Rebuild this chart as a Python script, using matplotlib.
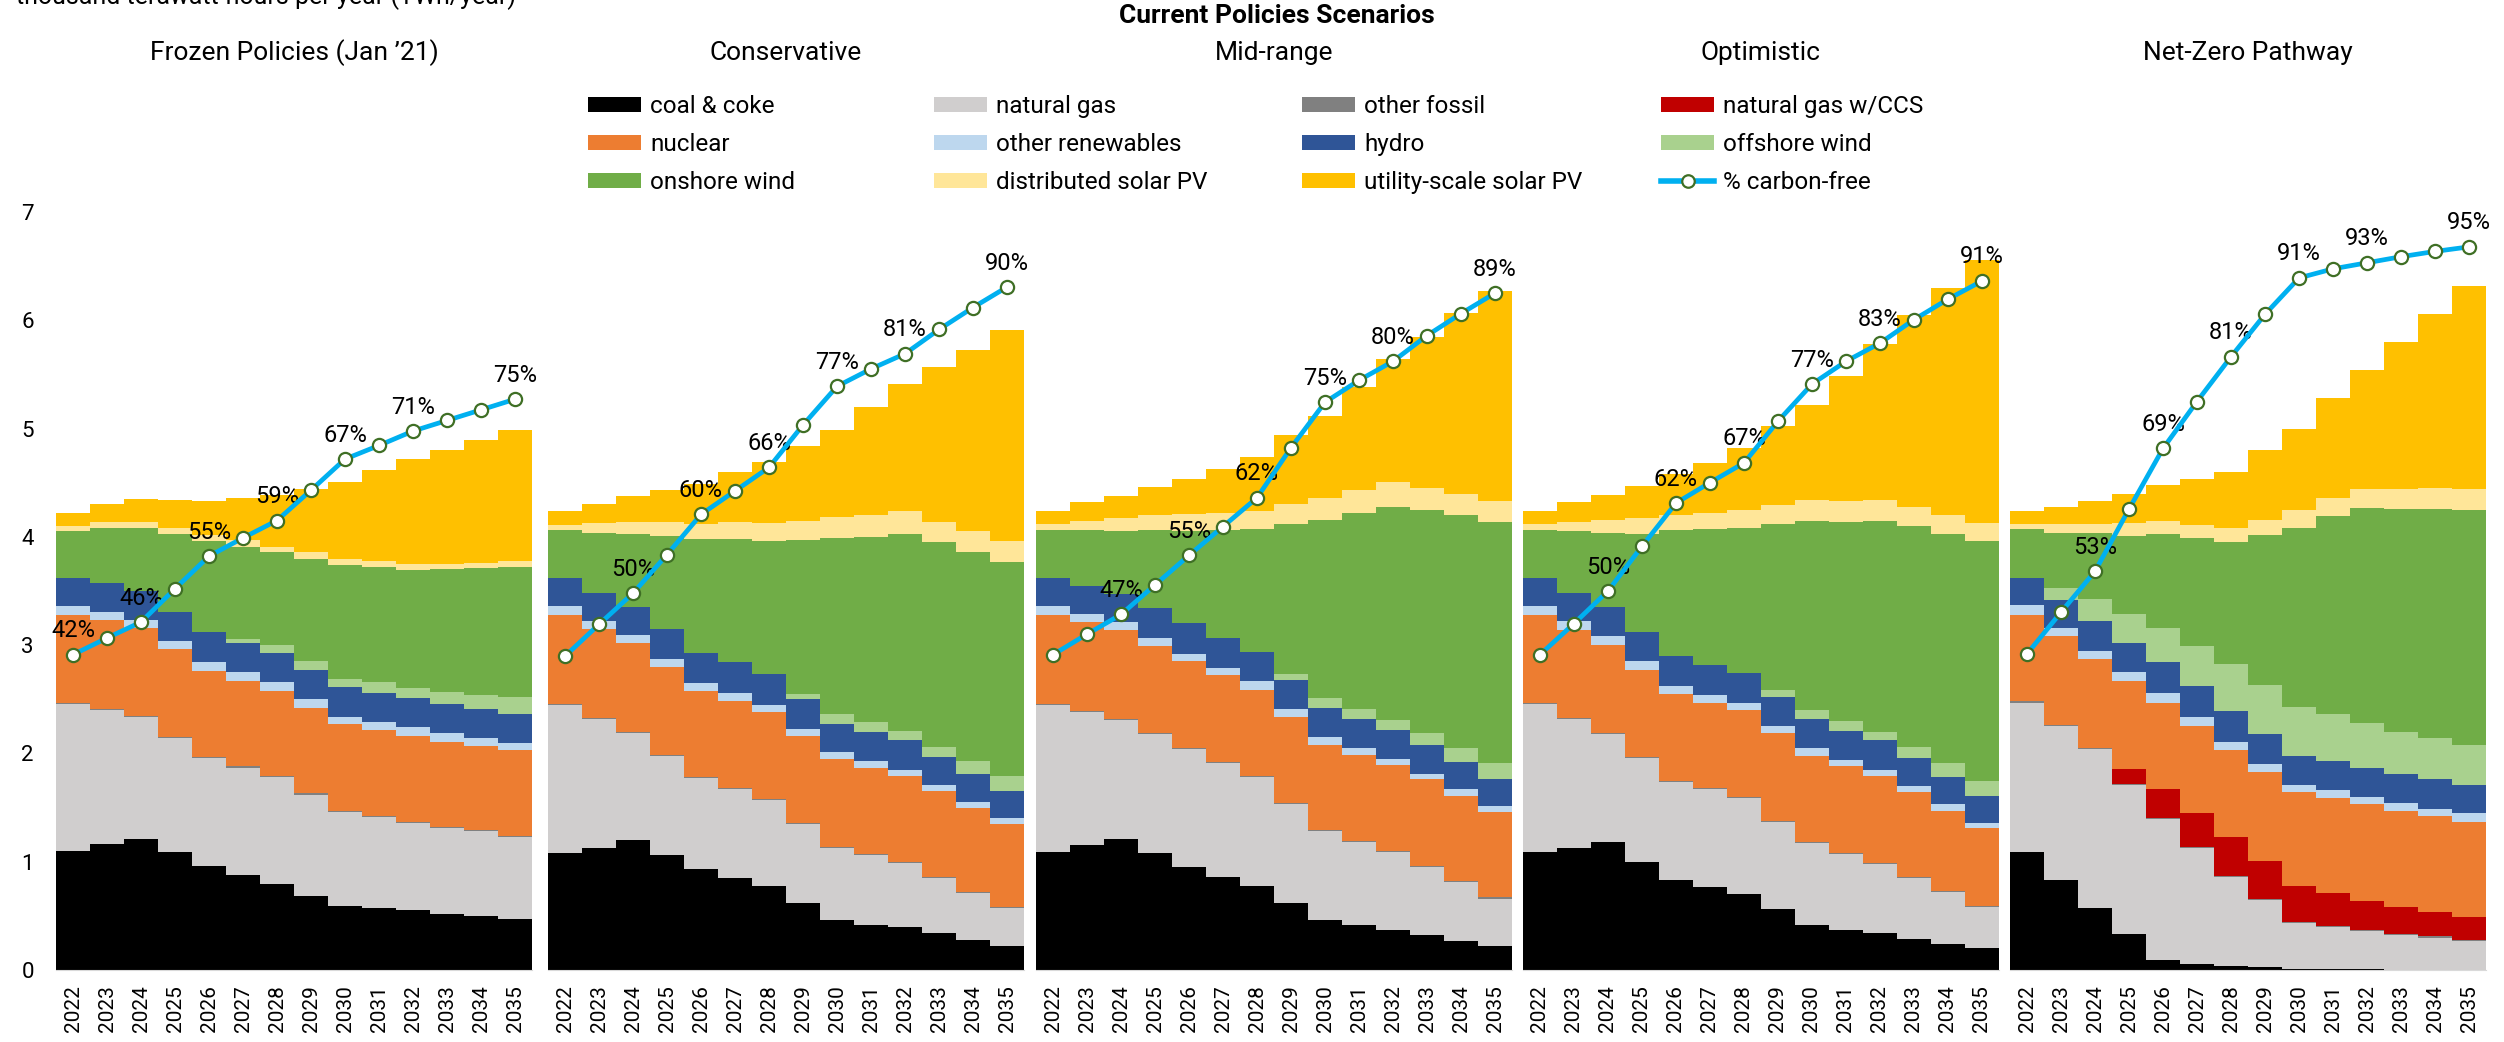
import numpy as np
import matplotlib
matplotlib.use("Agg")
import matplotlib.pyplot as plt
from matplotlib.patches import Patch
from matplotlib.lines import Line2D

plt.rcParams['font.family'] = ['Roboto', 'DejaVu Sans']

years = list(range(2022, 2036))
scenarios = ["Frozen Policies (Jan \u201921)", "Conservative", "Mid-range", "Optimistic", "Net-Zero Pathway"]

series_names = ["coal & coke", "natural gas", "other fossil", "natural gas w/CCS", "nuclear",
                "other renewables", "hydro", "offshore wind", "onshore wind",
                "distributed solar PV", "utility-scale solar PV"]
colors = ["#000000", "#D0CECE", "#808080", "#C00000", "#ED7D31", "#BDD7EE", "#2F5597",
          "#A9D18E", "#70AD47", "#FFE699", "#FFC000"]

# thousand TWh / year, one row per scenario
coal = [
    [1.10, 1.16, 1.21, 1.09, 0.96, 0.88, 0.79, 0.68, 0.59, 0.57, 0.55, 0.52, 0.50, 0.47],
    [1.08, 1.13, 1.20, 1.06, 0.93, 0.85, 0.78, 0.62, 0.46, 0.42, 0.40, 0.34, 0.28, 0.22],
    [1.09, 1.15, 1.21, 1.08, 0.95, 0.86, 0.78, 0.62, 0.46, 0.42, 0.37, 0.32, 0.27, 0.22],
    [1.09, 1.13, 1.18, 1.00, 0.83, 0.77, 0.70, 0.56, 0.42, 0.37, 0.34, 0.29, 0.24, 0.20],
    [1.09, 0.83, 0.57, 0.33, 0.09, 0.06, 0.04, 0.03, 0.01, 0.01, 0.01, 0.00, 0.00, 0.00],
]
natural_gas = [
    [1.36, 1.24, 1.13, 1.05, 1.00, 0.99, 0.99, 0.94, 0.87, 0.84, 0.81, 0.79, 0.78, 0.76],
    [1.37, 1.19, 0.99, 0.92, 0.84, 0.82, 0.79, 0.73, 0.67, 0.64, 0.59, 0.51, 0.43, 0.35],
    [1.36, 1.23, 1.10, 1.10, 1.09, 1.05, 1.00, 0.91, 0.82, 0.76, 0.72, 0.63, 0.54, 0.44],
    [1.37, 1.19, 1.00, 0.96, 0.91, 0.90, 0.89, 0.81, 0.75, 0.70, 0.64, 0.56, 0.48, 0.38],
    [1.38, 1.42, 1.47, 1.38, 1.30, 1.07, 0.82, 0.62, 0.42, 0.39, 0.35, 0.32, 0.30, 0.27],
]
other_fossil = [
    [0.01] * 14,
    [0.01] * 14,
    [0.01] * 14,
    [0.01] * 14,
    [0.01] * 14,
]
gas_ccs = [
    [0.0] * 14,
    [0.0] * 14,
    [0.0] * 14,
    [0.0] * 14,
    [0.00, 0.00, 0.00, 0.14, 0.27, 0.31, 0.36, 0.35, 0.34, 0.30, 0.27, 0.25, 0.23, 0.21],
]
nuclear = [
    [0.81, 0.82, 0.81, 0.81, 0.79, 0.79, 0.79, 0.79, 0.80, 0.80, 0.79, 0.79, 0.78, 0.79],
    [0.82, 0.82, 0.82, 0.81, 0.80, 0.80, 0.80, 0.80, 0.81, 0.80, 0.79, 0.79, 0.78, 0.77],
    [0.82, 0.82, 0.82, 0.80, 0.80, 0.80, 0.80, 0.80, 0.79, 0.80, 0.79, 0.80, 0.79, 0.79],
    [0.81, 0.81, 0.81, 0.80, 0.80, 0.79, 0.80, 0.81, 0.80, 0.80, 0.80, 0.78, 0.74, 0.72],
    [0.80, 0.82, 0.82, 0.81, 0.80, 0.80, 0.80, 0.82, 0.86, 0.88, 0.89, 0.89, 0.88, 0.88],
]
other_renewables = [
    [0.08, 0.08, 0.07, 0.08, 0.08, 0.08, 0.08, 0.08, 0.07, 0.07, 0.08, 0.08, 0.07, 0.07],
    [0.08, 0.07, 0.07, 0.07, 0.07, 0.08, 0.07, 0.07, 0.06, 0.06, 0.06, 0.06, 0.05, 0.05],
    [0.08, 0.08, 0.07, 0.08, 0.07, 0.07, 0.08, 0.07, 0.07, 0.06, 0.06, 0.05, 0.06, 0.05],
    [0.08, 0.08, 0.08, 0.08, 0.07, 0.07, 0.07, 0.06, 0.07, 0.06, 0.06, 0.06, 0.06, 0.05],
    [0.09, 0.08, 0.08, 0.08, 0.09, 0.09, 0.08, 0.07, 0.07, 0.07, 0.07, 0.07, 0.07, 0.08],
]
hydro = [
    [0.26, 0.26, 0.27, 0.27, 0.28, 0.27, 0.27, 0.27, 0.27, 0.27, 0.27, 0.27, 0.27, 0.26],
    [0.26, 0.26, 0.26, 0.28, 0.28, 0.28, 0.28, 0.27, 0.26, 0.27, 0.27, 0.26, 0.26, 0.25],
    [0.26, 0.26, 0.26, 0.27, 0.28, 0.28, 0.27, 0.27, 0.27, 0.27, 0.27, 0.27, 0.25, 0.25],
    [0.26, 0.26, 0.27, 0.27, 0.28, 0.28, 0.27, 0.27, 0.27, 0.27, 0.27, 0.26, 0.25, 0.25],
    [0.25, 0.26, 0.27, 0.27, 0.28, 0.28, 0.28, 0.28, 0.27, 0.27, 0.27, 0.27, 0.27, 0.26],
]
offshore_wind = [
    [0.00, 0.00, 0.00, 0.00, 0.00, 0.04, 0.07, 0.08, 0.08, 0.10, 0.09, 0.11, 0.13, 0.16],
    [0.00, 0.00, 0.00, 0.00, 0.00, 0.00, 0.00, 0.05, 0.09, 0.09, 0.09, 0.09, 0.12, 0.14],
    [0.00, 0.00, 0.00, 0.00, 0.00, 0.00, 0.00, 0.05, 0.09, 0.09, 0.09, 0.11, 0.13, 0.15],
    [0.00, 0.00, 0.00, 0.00, 0.00, 0.00, 0.00, 0.07, 0.08, 0.09, 0.08, 0.10, 0.13, 0.14],
    [0.00, 0.11, 0.21, 0.27, 0.32, 0.37, 0.44, 0.45, 0.45, 0.43, 0.41, 0.39, 0.38, 0.37],
]
onshore_wind = [
    [0.43, 0.51, 0.58, 0.72, 0.84, 0.85, 0.86, 0.95, 1.05, 1.06, 1.09, 1.13, 1.17, 1.20],
    [0.44, 0.56, 0.68, 0.86, 1.05, 1.14, 1.23, 1.42, 1.63, 1.71, 1.82, 1.89, 1.93, 1.98],
    [0.44, 0.51, 0.58, 0.72, 0.85, 0.99, 1.13, 1.39, 1.65, 1.81, 1.97, 2.06, 2.15, 2.23],
    [0.44, 0.57, 0.69, 0.91, 1.16, 1.25, 1.34, 1.53, 1.75, 1.84, 1.95, 2.04, 2.12, 2.21],
    [0.45, 0.51, 0.61, 0.72, 0.87, 1.00, 1.12, 1.39, 1.65, 1.83, 1.99, 2.06, 2.12, 2.17],
]
distributed_solar = [
    [0.05, 0.06, 0.06, 0.05, 0.06, 0.06, 0.05, 0.06, 0.06, 0.06, 0.06, 0.05, 0.05, 0.06],
    [0.05, 0.09, 0.11, 0.13, 0.14, 0.16, 0.17, 0.18, 0.19, 0.20, 0.21, 0.19, 0.19, 0.19],
    [0.06, 0.09, 0.12, 0.14, 0.16, 0.16, 0.17, 0.18, 0.20, 0.21, 0.23, 0.20, 0.20, 0.19],
    [0.06, 0.09, 0.12, 0.14, 0.14, 0.15, 0.17, 0.17, 0.19, 0.19, 0.19, 0.18, 0.17, 0.17],
    [0.05, 0.08, 0.08, 0.12, 0.12, 0.12, 0.13, 0.14, 0.17, 0.17, 0.17, 0.18, 0.19, 0.19],
]
utility_solar = [
    [0.12, 0.16, 0.21, 0.26, 0.31, 0.39, 0.48, 0.58, 0.71, 0.84, 0.97, 1.05, 1.13, 1.21],
    [0.13, 0.17, 0.24, 0.29, 0.37, 0.46, 0.56, 0.69, 0.81, 1.00, 1.17, 1.43, 1.68, 1.95],
    [0.12, 0.17, 0.21, 0.26, 0.32, 0.41, 0.50, 0.64, 0.76, 0.95, 1.13, 1.40, 1.67, 1.94],
    [0.12, 0.18, 0.23, 0.30, 0.38, 0.46, 0.57, 0.73, 0.88, 1.16, 1.44, 1.77, 2.10, 2.43],
    [0.12, 0.16, 0.21, 0.27, 0.33, 0.42, 0.52, 0.64, 0.75, 0.92, 1.10, 1.36, 1.61, 1.88],
]
pct_carbon_free = [
    [41.6, 43.8, 45.9, 50.3, 54.6, 57.0, 59.3, 63.3, 67.4, 69.2, 71.1, 72.5, 73.9, 75.3],
    [41.4, 45.6, 49.7, 54.8, 60.1, 63.2, 66.3, 71.9, 77.0, 79.3, 81.3, 84.5, 87.4, 90.1],
    [41.6, 44.3, 46.9, 50.8, 54.7, 58.5, 62.3, 68.9, 74.9, 77.8, 80.3, 83.7, 86.6, 89.3],
    [41.6, 45.7, 50.0, 55.9, 61.6, 64.3, 66.9, 72.4, 77.3, 80.3, 82.7, 85.8, 88.5, 90.9],
    [41.7, 47.2, 52.6, 60.8, 68.8, 75.0, 80.9, 86.5, 91.3, 92.5, 93.3, 94.1, 94.8, 95.4],
]
# which years get a % label
label_years = [
    [2022, 2024, 2026, 2028, 2030, 2032, 2035],
    [2024, 2026, 2028, 2030, 2032, 2035],
    [2024, 2026, 2028, 2030, 2032, 2035],
    [2024, 2026, 2028, 2030, 2032, 2035],
    [2024, 2026, 2028, 2030, 2032, 2035],
]

stack = [coal, natural_gas, other_fossil, gas_ccs, nuclear, other_renewables, hydro,
         offshore_wind, onshore_wind, distributed_solar, utility_solar]

W, H = 2504, 1042
fig = plt.figure(figsize=(W / 100, H / 100), dpi=100)

lefts = [56, 548, 1036, 1523, 2010]
x = np.arange(len(years))
edges = np.arange(len(years) + 1) - 0.5

for i, name in enumerate(scenarios):
    ax = fig.add_axes([lefts[i] / W, 72 / H, 476 / W, 758 / H])
    bottom = np.zeros(len(years))
    for s, c in zip(stack, colors):
        top = bottom + np.array(s[i])
        ax.stairs(top, edges, baseline=bottom, fill=True, color=c, lw=0)
        bottom = top
    ax.set_xlim(-0.5, len(years) - 0.5)
    ax.set_ylim(0, 7)
    ax.set_xticks(x)
    ax.set_xticklabels([str(y) for y in years], rotation=90, fontsize=15)
    ax.set_yticks(range(8))
    if i > 0:
        ax.set_yticklabels([])
    ax.tick_params(axis='y', length=0, pad=16, labelsize=16)
    ax.tick_params(axis='x', length=0, pad=11)
    for sp in ['top', 'right', 'left']:
        ax.spines[sp].set_visible(False)
    ax.spines['bottom'].set_color('#D9D9D9')

    ax2 = ax.twinx()
    ax2.set_ylim(0, 1)
    ax2.axis('off')
    p = np.array(pct_carbon_free[i]) / 100
    ax2.plot(x, p, color='#00B0F0', lw=3.4, marker='o', ms=9.5, mfc='white',
             mec='#3F6F25', mew=1.6, zorder=5)
    for yr in label_years[i]:
        k = years.index(yr)
        ax2.annotate(f"{round(pct_carbon_free[i][k])}%", (k, p[k]), xytext=(0, 9),
                     textcoords='offset points', ha='center', va='bottom', fontsize=17)

    fig.text((lefts[i] + 238) / W, 1 - 53 / H, name, ha='center', va='center', fontsize=19)

fig.text(1277 / W, 1 - 16 / H, "Current Policies Scenarios", ha='center', va='center',
         fontsize=19, fontweight='bold')
fig.text(16 / W, 1 - 4 / H, "thousand terawatt-hours per year (TWh/year)", ha='left',
         va='baseline', fontsize=18)

# legend, laid out row-wise in four columns
handles = [Patch(facecolor=c, edgecolor='none') for c in colors]
handles.append(Line2D([0], [0], color='#00B0F0', lw=4, marker='o', ms=9, mfc='white',
                      mec='#3F6F25', mew=1.6))
labels = series_names + ["% carbon-free"]
col_x = [588, 934, 1302, 1661]
for c in range(4):
    idx = [c, c + 4, c + 8]
    fig.legend([handles[j] for j in idx], [labels[j] for j in idx], loc='upper left',
               bbox_to_anchor=(col_x[c] / W, 1 - 95 / H), frameon=False, fontsize=17.5,
               borderpad=0, borderaxespad=0, handlelength=2.2, handleheight=0.56,
               handletextpad=0.35, labelspacing=0.62)

fig.savefig("out.png", dpi=100)
